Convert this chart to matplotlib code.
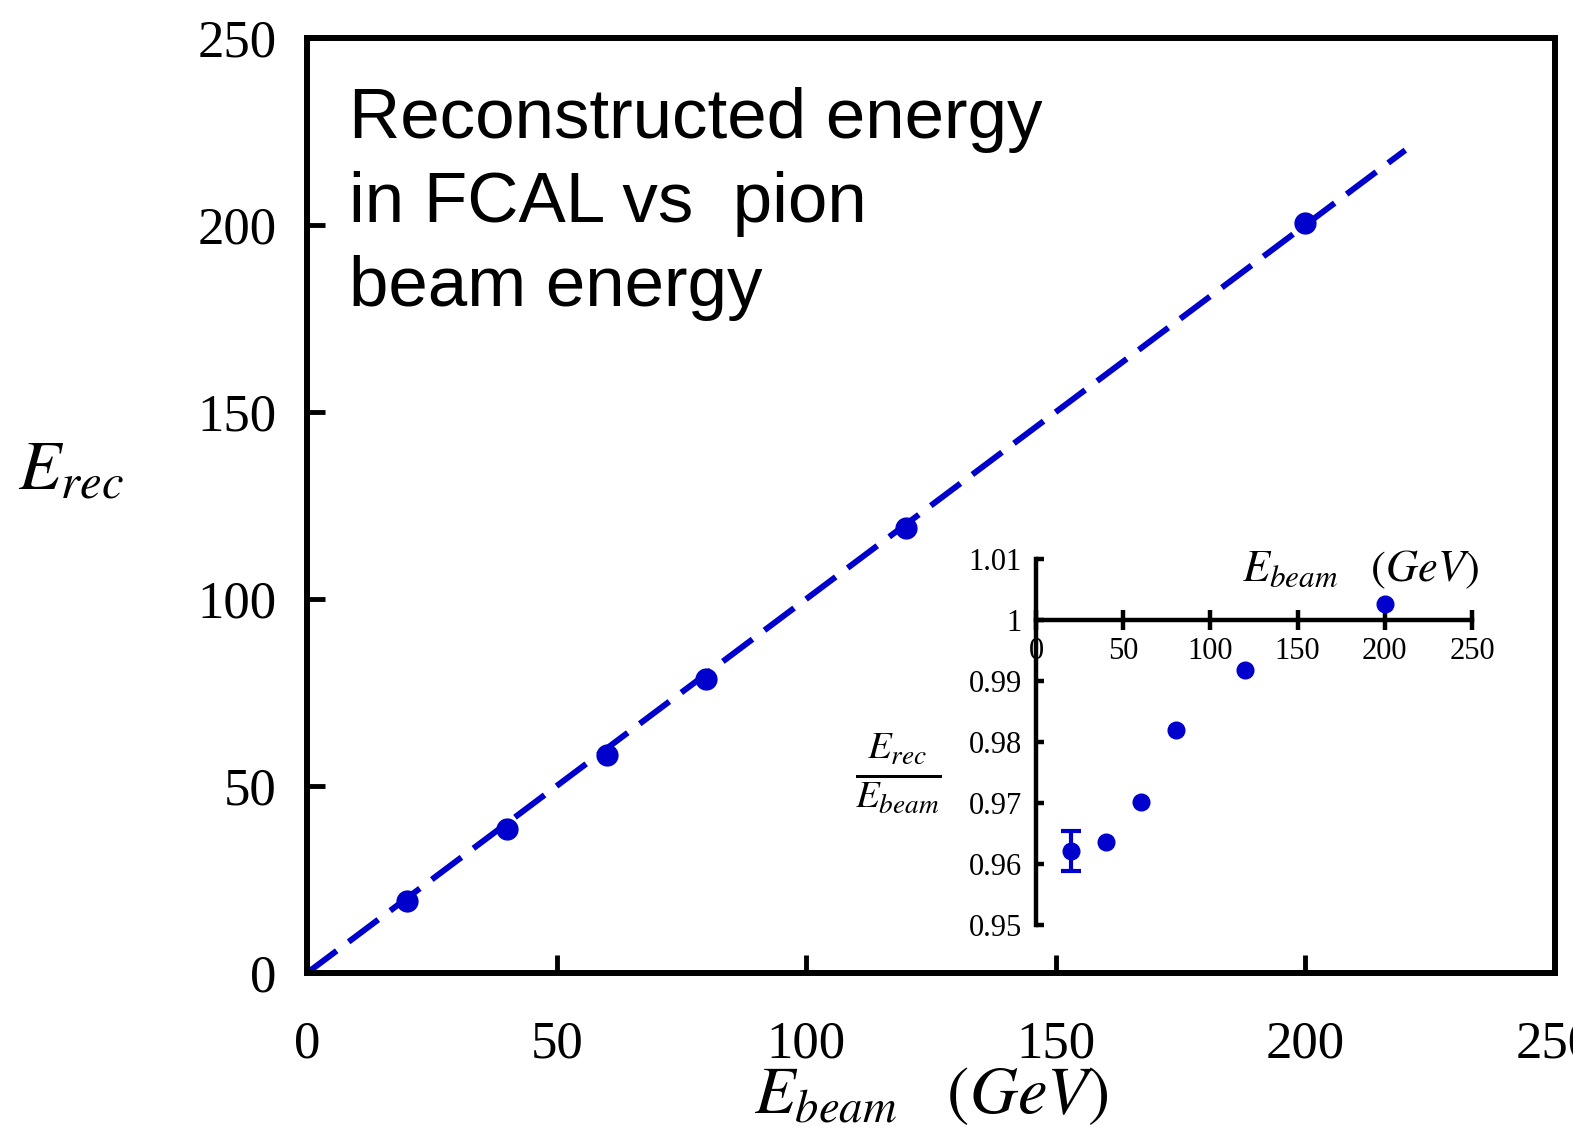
import numpy as np
import matplotlib
matplotlib.use("Agg")
import matplotlib.pyplot as plt
from matplotlib.ticker import FixedLocator, FixedFormatter

plt.rcParams['mathtext.fontset'] = 'stix'
plt.rcParams['font.family'] = ['Liberation Serif', 'DejaVu Serif']

# data
e_beam = [20, 40, 60, 80, 120, 200]
ratio = [0.9621, 0.9636, 0.9702, 0.9820, 0.9918, 1.0027]
ratio_err_first = 0.0033  # only the 20 GeV point shows an error bar
e_rec = [e * r for e, r in zip(e_beam, ratio)]
fit_x = [0, 220]
fit_y = [0, 220]

main_ticks = [0, 50, 100, 150, 200, 250]
inset_yticks = [0.95, 0.96, 0.97, 0.98, 0.99, 1.00, 1.01]
inset_ylabels = ['0.95', '0.96', '0.97', '0.98', '0.99', '1', '1.01']

blue = '#0000cc'

fig = plt.figure(figsize=(15.73, 11.29), dpi=100)

# main plot
ax = fig.add_axes([0.1952, 0.1382, 0.7934, 0.8282])
ax.plot(fit_x, fit_y, color=blue, lw=4.3, dashes=(6.2, 2.5))
ax.plot(e_beam, e_rec, 'o', color=blue, ms=15)
ax.set_xlim(0, 250)
ax.set_ylim(0, 250)
ax.set_xticks(main_ticks)
ax.set_yticks(main_ticks)
for s in ax.spines.values():
    s.set_linewidth(4.3)
ax.tick_params(direction='in', length=13, width=3.5, labelsize=38,
               top=False, right=False)
ax.tick_params(axis='x', pad=34)
ax.tick_params(axis='y', pad=22)
ax.set_xlabel(r'$E_{beam}\ \ \ (GeV)$', fontsize=48, labelpad=-2)
ax.set_ylabel(r'$E_{rec}$', fontsize=50, rotation=0, va='center', ha='left')
ax.yaxis.set_label_coords(-0.232, 0.535)
ax.text(0.034, 0.948, 'Reconstructed energy\nin FCAL vs  pion\nbeam energy',
        transform=ax.transAxes, ha='left', va='top', fontsize=51,
        family='Liberation Sans', linespacing=1.36)

# inset: ratio
ins = fig.add_axes([0.6586, 0.1807, 0.2772, 0.3242])
ins.plot(e_beam[1:], ratio[1:], 'o', color=blue, ms=12)
ins.errorbar(e_beam[:1], ratio[:1], yerr=ratio_err_first, fmt='o', color=blue,
             ms=12, elinewidth=3, capsize=7, capthick=3)
ins.set_xlim(0, 250)
ins.set_ylim(0.95, 1.01)
ins.spines['top'].set_visible(False)
ins.spines['right'].set_visible(False)
ins.spines['bottom'].set_position(('data', 1.0))
ins.spines['left'].set_linewidth(3.2)
ins.spines['bottom'].set_linewidth(3.2)
ins.patch.set_alpha(0)
ins.set_xticks(main_ticks)
ins.yaxis.set_major_locator(FixedLocator(inset_yticks))
ins.yaxis.set_major_formatter(FixedFormatter(inset_ylabels))
ins.tick_params(axis='y', direction='in', length=6, width=3.2,
                labelsize=22, pad=10)
ins.tick_params(axis='x', direction='inout', length=14, width=3.2,
                labelsize=22, pad=5)
ins.text(0.745, 0.97, r'$E_{beam}\ \ \ (GeV)$', transform=ins.transAxes,
         ha='center', va='center', fontsize=32)
ins.text(-0.315, 0.415, r'$\frac{E_{rec}}{E_{beam}}$', transform=ins.transAxes,
         ha='center', va='center', fontsize=40)

fig.savefig('out.png', dpi=100)
